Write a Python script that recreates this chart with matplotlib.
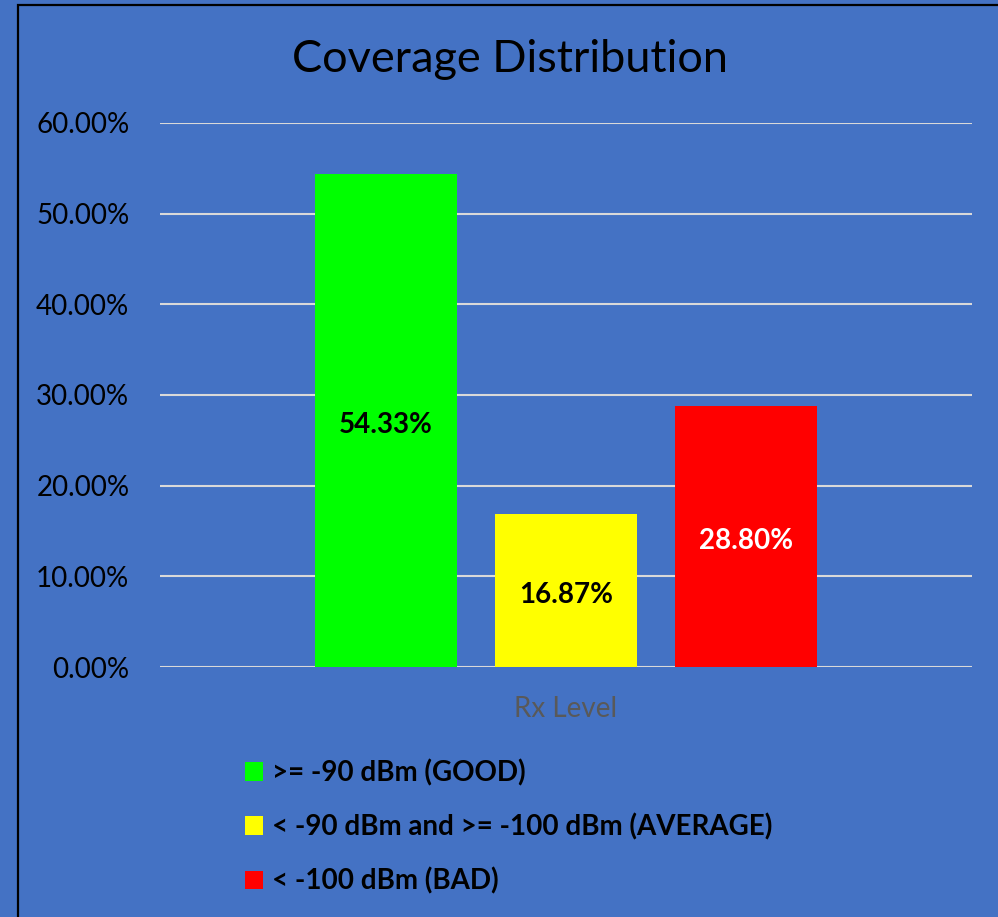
import numpy as np
import matplotlib.pyplot as plt
from matplotlib.patches import Patch, Rectangle
from matplotlib.ticker import PercentFormatter

# data
category = "Rx Level"
series_labels = [">= -90 dBm (GOOD)",
                 "< -90 dBm and >= -100 dBm (AVERAGE)",
                 "< -100 dBm (BAD)"]
values = [54.33, 16.87, 28.80]
bar_colors = ["#00FF00", "#FFFF00", "#FF0000"]
label_colors = ["black", "black", "white"]
yticks = [0, 10, 20, 30, 40, 50, 60]

BG = "#4472C4"
plt.rcParams['font.family'] = ['Lato', 'DejaVu Sans']

fig = plt.figure(figsize=(9.98, 9.17), dpi=100, facecolor=BG)
ax = fig.add_axes([0.1603, 0.2726, 0.8136, 0.5933])
ax.set_facecolor(BG)

# outer chart border (only top and left visible in the crop)
fig.patches.append(Rectangle((18 / 998, -0.1), 1.2, 1 - 5 / 917 + 0.1,
                             transform=fig.transFigure, fill=False,
                             edgecolor="black", linewidth=1.6))

width = 0.175
step = 0.2217
offsets = (np.arange(len(values)) - 1) * step
bars = ax.bar(offsets, values, width=width, color=bar_colors, zorder=3)

for b, v, c in zip(bars, values, label_colors):
    ax.annotate(f"{v:.2f}%", (b.get_x() + b.get_width() / 2, v / 2),
                xytext=(0, -3), textcoords="offset points",
                ha="center", va="center", fontsize=20, fontweight="bold",
                color=c, zorder=4)

ax.set_xlim(-0.5, 0.5)
ax.set_ylim(0, 60)
ax.set_yticks(yticks)
ax.yaxis.set_major_formatter(PercentFormatter(decimals=2))
ax.grid(axis="y", color="#D9D9D9", linewidth=1.5, zorder=0)
ax.tick_params(axis="y", length=0, pad=22, labelsize=20, labelcolor="black")
ax.set_xticks([0])
ax.set_xticklabels([category], fontsize=20, color="#595959")
ax.tick_params(axis="x", length=0, pad=21)
for s in ["top", "right", "left", "bottom"]:
    ax.spines[s].set_visible(False)

fig.text(510 / 998, 1 - 60 / 917, "Coverage Distribution", fontsize=32.5,
         ha="center", va="center", color="black")

handles = [Patch(facecolor=c, edgecolor="none") for c in bar_colors]
fig.legend(handles, series_labels, loc="upper left",
           bbox_to_anchor=(245 / 998, 1 - 759 / 917),
           frameon=False, prop={"weight": "bold", "size": 20},
           borderpad=0, borderaxespad=0,
           handlelength=0.65, handleheight=0.65, handletextpad=0.32,
           labelspacing=0.98)

fig.savefig("out.png", dpi=100, facecolor=BG)
